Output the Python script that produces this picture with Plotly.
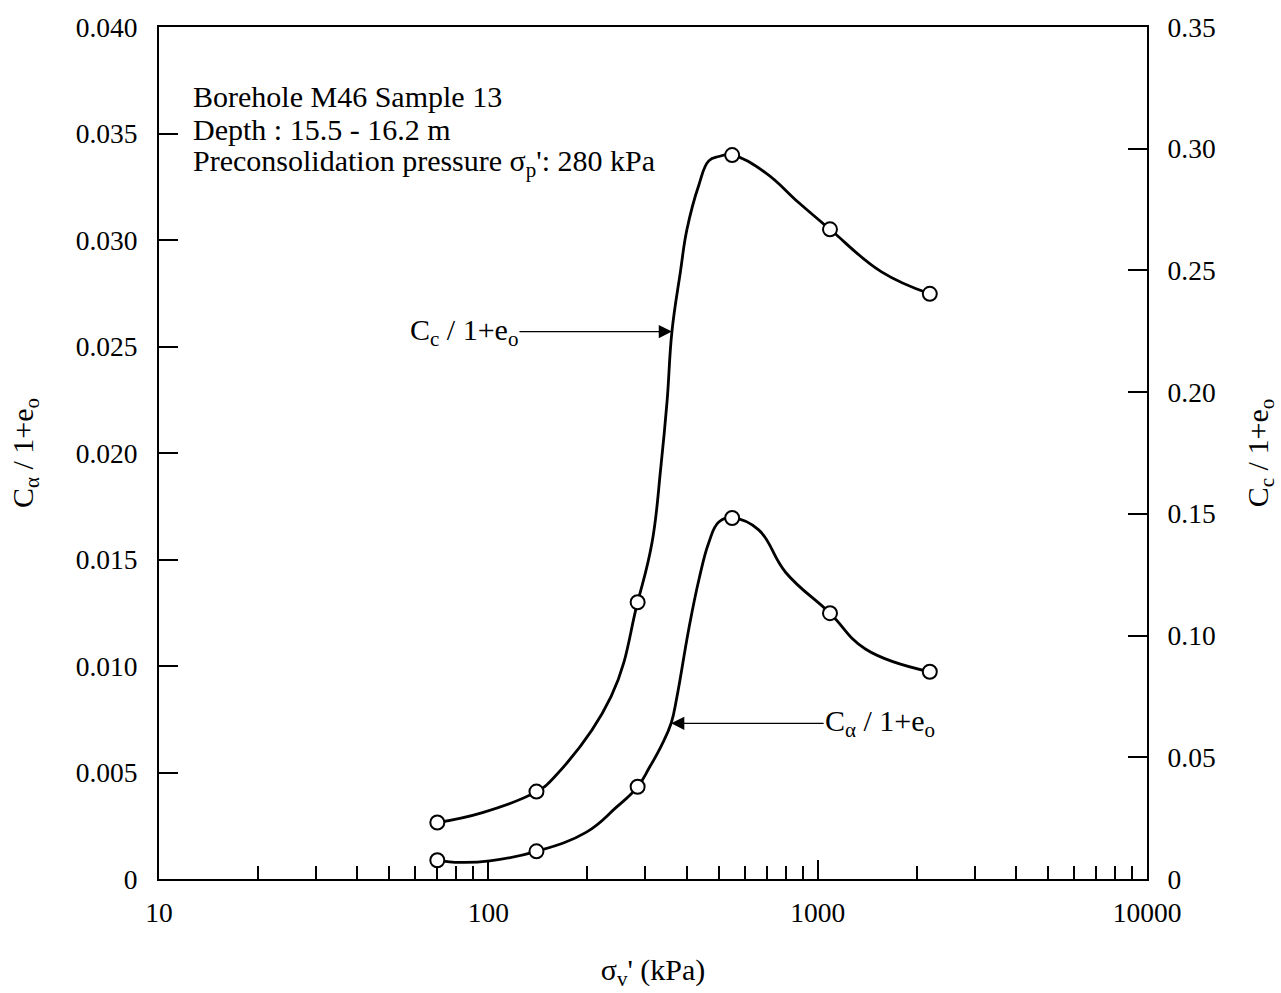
import math
import plotly.graph_objects as go

pressure = [70, 140, 284, 550, 1090, 2190]
ca_ratio = [0.00088, 0.0013, 0.00433, 0.01695, 0.01248, 0.00973]
cc_ratio = [0.0232, 0.0359, 0.1137, 0.2974, 0.2669, 0.2404]

# Hand-drawn smooth curves
cc_curve_x = [70, 96, 140, 158, 236, 284, 314, 334, 349, 361, 383, 401, 436, 467, 501, 550, 695, 875, 1090, 1563, 2190]
cc_curve_y = [0.0232, 0.0273, 0.0359, 0.0416, 0.0750, 0.1137, 0.1381, 0.1691, 0.1964, 0.2249, 0.2494,
              0.2669, 0.2852, 0.2950, 0.2968, 0.2974, 0.2901, 0.2779, 0.2669, 0.2494, 0.2404]
ca_curve_x = [70, 82, 101, 140, 198, 244, 284, 308, 336, 359, 374, 406, 436, 467, 501, 550, 662, 800, 1090, 1396, 2190]
ca_curve_y = [0.00088, 0.00078, 0.00085, 0.0013, 0.00219, 0.00335, 0.00433, 0.00522, 0.00629, 0.00731, 0.00857,
              0.01173, 0.01406, 0.01579, 0.01676, 0.01695, 0.01639, 0.01439, 0.01248, 0.0108, 0.00973]

x_ticks = [10, 100, 1000, 10000]
x_ticktext = ["10", "100", "1000", "10000"]
y_left_ticks = [0, 0.005, 0.010, 0.015, 0.020, 0.025, 0.030, 0.035, 0.040]
y_left_text = ["0", "0.005", "0.010", "0.015", "0.020", "0.025", "0.030", "0.035", "0.040"]
y_right_ticks = [0, 0.05, 0.10, 0.15, 0.20, 0.25, 0.30, 0.35]
y_right_text = ["0", "0.05", "0.10", "0.15", "0.20", "0.25", "0.30", "0.35"]

info_lines = ["Borehole M46 Sample 13",
              "Depth : 15.5 - 16.2 m",
              "Preconsolidation pressure σ<sub>p</sub>': 280 kPa"]

# index of the curve point each label arrow points to
cc_arrow_i = 9
ca_arrow_i = 9

FONT = "Liberation Serif"
FS_TICK = 27.5
FS = 30

fig = go.Figure()
fig.add_trace(go.Scatter(x=cc_curve_x, y=cc_curve_y, mode="lines", yaxis="y2",
                         line=dict(color="black", width=2.8, shape="spline", smoothing=1.2),
                         showlegend=False, hoverinfo="skip"))
fig.add_trace(go.Scatter(x=ca_curve_x, y=ca_curve_y, mode="lines", yaxis="y",
                         line=dict(color="black", width=2.8, shape="spline", smoothing=1.2),
                         showlegend=False, hoverinfo="skip"))
fig.add_trace(go.Scatter(x=pressure, y=cc_ratio, mode="markers", yaxis="y2",
                         marker=dict(symbol="circle", size=14, color="white",
                                     line=dict(color="black", width=2)),
                         showlegend=False))
fig.add_trace(go.Scatter(x=pressure, y=ca_ratio, mode="markers", yaxis="y",
                         marker=dict(symbol="circle", size=14, color="white",
                                     line=dict(color="black", width=2)),
                         showlegend=False))

fig.add_annotation(x=math.log10(cc_curve_x[cc_arrow_i]), y=cc_curve_y[cc_arrow_i], xref="x", yref="y2",
                   text="C<sub>c</sub> / 1+e<sub>o</sub>", showarrow=True, ax=-208, ay=0,
                   arrowhead=2, arrowsize=2.2, arrowwidth=1.2, arrowcolor="black", standoff=0,
                   font=dict(family=FONT, size=FS, color="black"))
fig.add_annotation(x=math.log10(ca_curve_x[ca_arrow_i]), y=ca_curve_y[ca_arrow_i], xref="x", yref="y",
                   text="C<sub>α</sub> / 1+e<sub>o</sub>", showarrow=True, ax=209, ay=0,
                   arrowhead=2, arrowsize=2.2, arrowwidth=1.2, arrowcolor="black", standoff=0,
                   font=dict(family=FONT, size=FS, color="black"))
for i, line in enumerate(info_lines):
    fig.add_annotation(x=0.032, y=0.919 - i * 0.0393, xref="paper", yref="paper",
                       xanchor="left", yanchor="middle", align="left", showarrow=False,
                       text=line, font=dict(family=FONT, size=FS, color="black"))

axis_common = dict(showline=True, linecolor="black", linewidth=2, showgrid=False, zeroline=False,
                   ticks="inside", tickcolor="black", tickwidth=2, ticklen=19,
                   tickfont=dict(family=FONT, size=FS_TICK, color="black"))

fig.update_layout(
    width=1281, height=993,
    margin=dict(l=159, r=131, t=23, b=111),
    paper_bgcolor="white", plot_bgcolor="white",
    font=dict(family=FONT, size=FS, color="black"),
    xaxis=dict(type="log", range=[1, 4], tickvals=x_ticks, ticktext=x_ticktext, mirror=True,
               ticklabelstandoff=8,
               minor=dict(ticks="inside", ticklen=13, tickwidth=1.5, tickcolor="black", dtick="D1"),
               title=dict(text="σ<sub>v</sub>' (kPa)", font=dict(family=FONT, size=FS), standoff=32),
               **axis_common),
    yaxis=dict(range=[0, 0.04], tickvals=y_left_ticks, ticktext=y_left_text, mirror=True,
               ticklabelstandoff=14,
               title=dict(text="C<sub>α</sub> / 1+e<sub>o</sub>", font=dict(family=FONT, size=FS), standoff=33),
               **axis_common),
    yaxis2=dict(range=[0, 0.35], tickvals=y_right_ticks, ticktext=y_right_text, overlaying="y", side="right",
                ticklabelstandoff=13,
                title=dict(text="C<sub>c</sub> / 1+e<sub>o</sub>", font=dict(family=FONT, size=FS), standoff=32),
                **axis_common),
)

fig.write_html("out.html")
